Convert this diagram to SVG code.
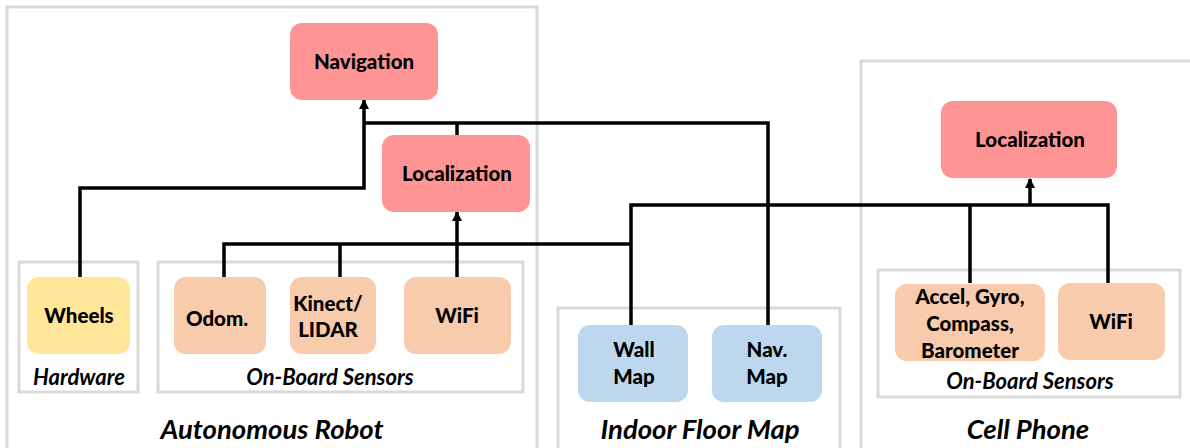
<svg xmlns="http://www.w3.org/2000/svg" width="1190" height="448" viewBox="0 0 1190 448">
  <style>
    .frame { fill: #ffffff; stroke: #d9d9d9; stroke-width: 3; }
    .node { stroke: none; }
    .red { fill: #ff9494; }
    .peach { fill: #f8cbad; }
    .yellow { fill: #ffe699; }
    .blue { fill: #bdd7ee; }
    .lbl { font-family: Lato, "Liberation Sans", sans-serif; font-weight: 900; font-size: 20.5px; fill: #000; text-anchor: middle; }
    .cap { font-family: Lato, "Liberation Sans", sans-serif; font-weight: bold; font-style: italic; font-size: 22px; fill: #000; text-anchor: middle; }
    .title { font-family: Lato, "Liberation Sans", sans-serif; font-weight: bold; font-style: italic; font-size: 27.5px; fill: #000; text-anchor: middle; }
    .wire { fill: none; stroke: #000; stroke-width: 3.5; }
  </style>
  <defs>
    <marker id="arrow" viewBox="0 0 10 10" refX="9" refY="5" markerWidth="3" markerHeight="3" orient="auto" markerUnits="strokeWidth">
      <path d="M0,0 L10,5 L0,10 z" fill="#000"/>
    </marker>
  </defs>

  <!-- outer containers -->
  <g id="robot">
    <rect class="frame" x="7" y="7" width="530" height="450"/>
    <text class="title" x="272" y="439">Autonomous Robot</text>
  </g>
  <g id="floormap">
    <rect class="frame" x="558" y="308" width="282" height="150"/>
    <text class="title" x="700" y="439">Indoor Floor Map</text>
  </g>
  <g id="phone">
    <rect class="frame" x="861" y="61" width="340" height="400"/>
    <text class="title" x="1028" y="439">Cell Phone</text>
  </g>

  <!-- sub-groups -->
  <g id="hardware">
    <rect class="frame" x="19" y="262" width="119" height="130"/>
    <text class="cap" x="79" y="385">Hardware</text>
  </g>
  <g id="robot-sensors">
    <rect class="frame" x="158" y="262" width="365" height="130"/>
    <text class="cap" x="330" y="385">On-Board Sensors</text>
  </g>
  <g id="phone-sensors">
    <rect class="frame" x="878" y="270" width="302" height="127"/>
    <text class="cap" x="1030" y="389">On-Board Sensors</text>
  </g>

  <!-- connectors -->
  <g id="connectors">
    <polyline class="wire" points="80,277 80,188 364,188 364,100" marker-end="url(#arrow)"/>
    <polyline class="wire" points="364,123 768,123 768,326"/>
    <line class="wire" x1="457" y1="123" x2="457" y2="135"/>
    <polyline class="wire" points="457,277 457,212" marker-end="url(#arrow)"/>
    <polyline class="wire" points="224,277 224,244 631,244"/>
    <line class="wire" x1="340" y1="244" x2="340" y2="277"/>
    <polyline class="wire" points="631,326 631,205 1108,205 1108,283"/>
    <line class="wire" x1="970" y1="205" x2="970" y2="283"/>
    <polyline class="wire" points="1030,205 1030,179" marker-end="url(#arrow)"/>
  </g>

  <!-- nodes -->
  <g id="navigation">
    <rect class="node red" x="290" y="23" width="148" height="77" rx="12"/>
    <text class="lbl" x="364" y="69">Navigation</text>
  </g>
  <g id="robot-localization">
    <rect class="node red" x="382" y="135" width="148" height="77" rx="12"/>
    <text class="lbl" x="457" y="181">Localization</text>
  </g>
  <g id="wheels">
    <rect class="node yellow" x="27" y="277" width="103" height="77" rx="12"/>
    <text class="lbl" x="79" y="323">Wheels</text>
  </g>
  <g id="odom">
    <rect class="node peach" x="174" y="277" width="92" height="77" rx="12"/>
    <text class="lbl" x="217" y="326">Odom.</text>
  </g>
  <g id="kinect">
    <rect class="node peach" x="290" y="277" width="86" height="77" rx="12"/>
    <text class="lbl" x="328" y="311">Kinect/</text>
    <text class="lbl" x="328" y="337">LIDAR</text>
  </g>
  <g id="robot-wifi">
    <rect class="node peach" x="404" y="277" width="107" height="77" rx="12"/>
    <text class="lbl" x="457" y="323">WiFi</text>
  </g>
  <g id="wall-map">
    <rect class="node blue" x="578" y="325" width="110" height="77" rx="12"/>
    <text class="lbl" x="634" y="357">Wall</text>
    <text class="lbl" x="634" y="384">Map</text>
  </g>
  <g id="nav-map">
    <rect class="node blue" x="712" y="325" width="110" height="77" rx="12"/>
    <text class="lbl" x="767" y="357">Nav.</text>
    <text class="lbl" x="767" y="384">Map</text>
  </g>
  <g id="phone-localization">
    <rect class="node red" x="941" y="101" width="176" height="77" rx="12"/>
    <text class="lbl" x="1030" y="147">Localization</text>
  </g>
  <g id="imu">
    <rect class="node peach" x="895" y="284" width="150" height="77" rx="12"/>
    <text class="lbl" x="970" y="304">Accel, Gyro,</text>
    <text class="lbl" x="970" y="331">Compass,</text>
    <text class="lbl" x="970" y="358">Barometer</text>
  </g>
  <g id="phone-wifi">
    <rect class="node peach" x="1058" y="283" width="107" height="77" rx="12"/>
    <text class="lbl" x="1111" y="329">WiFi</text>
  </g>
</svg>
